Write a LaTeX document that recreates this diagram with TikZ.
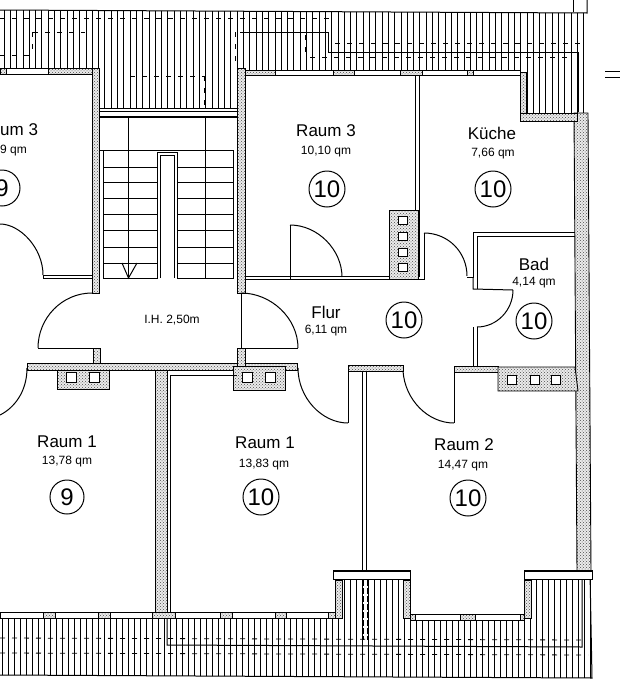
\documentclass[tikz,border=0pt]{standalone}
\usepackage{fontspec}
\setmainfont{Liberation Sans}
\usetikzlibrary{patterns}

\tikzset{
  plan/.style={black, line width=1pt},
  hatchline/.style={black, line width=0.8pt},
  dashline/.style={black, line width=0.8pt, dash pattern=on 5pt off 7pt},
  wallband/.style={draw=black, line width=0.9pt, preaction={fill=black!8}, pattern=crosshatch dots, pattern color=black!70},
  windowband/.style={draw=black, line width=0.8pt, fill=white},
  flue/.style={draw=black, line width=1pt, fill=white},
  roomname/.style={font=\fontsize{17}{20}\selectfont, inner sep=0pt},
  roomarea/.style={font=\fontsize{12}{14}\selectfont, inner sep=0pt},
  flatnr/.style={draw=black, line width=1pt, circle, minimum size=36pt, inner sep=0pt, font=\fontsize{24}{28}\selectfont},
}

\begin{document}
\begin{tikzpicture}[x=1pt, y=-1pt]
  \useasboundingbox (0,0) rectangle (620,683);

  % roof hatching
  \begin{scope}
    \clip (0,10) -- (587,13) -- (588,113) -- (520,113) -- (520,70) -- (237,70) -- (237,108) -- (99,108) -- (99,68) -- (0,68) -- cycle;
    \foreach \i in {0,...,93} {
      \draw[hatchline] ({4 + 6.3 * \i}, 5) -- +(0, 110);
    }
  \end{scope}
  \begin{scope}
    \clip (0,618) -- (335,618) -- (335,580) -- (410,580) -- (410,618) -- (525,618) -- (525,580) -- (592,580) -- (592,678) -- (0,675) -- cycle;
    \foreach \i in {0,...,98} {
      \draw[hatchline] ({2 + 6 * \i}, 575) -- +(0, 105);
    }
  \end{scope}

  % roof outline
  \draw[plan] (573,0) -- (573,12);
  \draw[plan] (587,0) -- (587,13) -- (0,10);
  \draw[plan] (0,675) -- (592,678) -- (590,572);
  \draw[plan] (605,71) -- (620,71);
  \draw[plan] (605,77) -- (620,77);

  % dashed lines in the roof
  \draw[dashline] (0,18) -- (335,18);
  \draw[dashline] (310,57) -- (573,57);
  \draw[dashline] (335,43) -- (585,43);
  \draw[dashline] (33,32) -- (85,32);
  \draw[dashline] (130,76) -- (204,76);
  \draw[dashline] (0,55) -- (32,55);
  \draw[dashline] (32,32) -- (32,55);
  \draw[dashline] (92,38) -- (92,66);
  \draw[dashline] (204,76) -- (204,106);
  \draw[dashline] (235,32) -- (235,66);
  \draw[dashline] (305,35) -- (305,56);
  \draw[dashline] (0,638) -- (586,640);
  \draw[dashline] (0,653) -- (588,655);
  \draw[plan] (240,32) -- (328,32) -- (328,52) -- (578,52) -- (578,112);
  \draw[plan] (167,618) -- (167,645) -- (582,647) -- (582,580);
  \draw[plan, dash pattern=on 6pt off 2pt] (363,580) -- (363,640);
  \draw[plan, dash pattern=on 6pt off 2pt] (367,580) -- (367,640);

  % stairs
  \draw[plan] (99,108) -- (237,108);
  \draw[plan] (99,111) -- (237,111);
  \draw[plan, line width=1.3pt] (99,117) -- (237,117);
  \draw[plan] (100,150) -- (233,150);
  \foreach \y in {167, 182, 198, 214, 230, 247, 263} {
    \draw[plan] (103,\y) -- (157,\y);
    \draw[plan] (178,\y) -- (233,\y);
  }
  \draw[plan] (103,150) -- (103,278) -- (157,278) -- (157,152) -- (177,152) -- (177,278) -- (233,278) -- (233,150);
  \draw[plan] (160,278) -- (160,155) -- (174,155) -- (174,278);
  \draw[plan] (128.5,117) -- (128.5,278);
  \draw[plan] (205,117) -- (205,278);
  \draw[plan] (122,263) -- (128.5,278) -- (137,263);

  % walls
  \fill[white] (0,68) rectangle (99,74);
  \draw[wallband] (92,68) rectangle (99,293);
  \draw[wallband] (237,68) rectangle (245,293);
  \draw[wallband] (574,113) -- (588,113) -- (591,572) -- (577,572) -- cycle;
  \draw[wallband] (520,72) rectangle (526,113);
  \draw[wallband] (520,113) rectangle (577,121);
  \draw[wallband] (389,210) rectangle (418,279);
  \draw[wallband] (27,363) rectangle (297,370);
  \draw[wallband] (348,365) rectangle (403,371);
  \draw[wallband] (454,366) rectangle (498,372);
  \draw[wallband] (498,367) -- (575,367) -- (578,391) -- (498,391) -- cycle;
  \draw[wallband] (57,370) rectangle (109,389);
  \draw[wallband] (233,366) rectangle (285,390);
  \draw[wallband] (93,348) rectangle (100,363);
  \draw[wallband] (237,348) rectangle (245,366);
  \draw[wallband] (155,370) rectangle (167,612);
  \draw[wallband] (335,580) rectangle (342,618);
  \draw[wallband] (403,580) rectangle (410,618);
  \draw[wallband] (524,580) rectangle (531,618);

  % window bands
  \draw[windowband] (0,68) rectangle (92,74);
  \draw[wallband] (0,68) rectangle (6,74);
  \draw[wallband] (48,68) rectangle (92,74);
  \draw[windowband] (245,70) rectangle (520,75);
  \foreach \xa/\xb in {245/275, 333/354, 400/422, 467/473} {
    \draw[wallband] (\xa,70) rectangle (\xb,75);
  }
  \draw[windowband] (0,612) rectangle (335,618);
  \foreach \xa/\xb in {43/55, 98/110, 152/175, 220/232, 275/286, 328/335} {
    \draw[wallband] (\xa,612) rectangle (\xb,618);
  }
  \draw[windowband] (410,614) rectangle (524,620);
  \foreach \xa/\xb in {410/415, 460/475, 520/524} {
    \draw[wallband] (\xa,614) rectangle (\xb,620);
  }
  \draw[plan, fill=white] (333,570) rectangle (410,579);
  \draw[plan, fill=white] (524,570) rectangle (592,579);
  \draw[black, line width=1.6pt] (333,571) -- (410,571);
  \draw[black, line width=1.6pt] (524,571) -- (592,571);

  % thin partitions
  \draw[plan] (415,75) -- (415,210);
  \draw[plan] (419,75) -- (419,277);
  \draw[plan] (424,233) -- (424,279) -- (418,279);
  \draw[plan] (43,278) -- (43,275) -- (92,275);
  \draw[plan] (43,278) -- (92,278);
  \draw[plan] (290,225) -- (290,279) -- (389,279);
  \draw[plan] (245,276) -- (389,276);
  \draw[plan] (245,279) -- (290,279);
  \draw[plan] (241.5,293) -- (241.5,348);
  \draw[plan] (38,348) -- (93,348);
  \draw[plan] (241.5,348) -- (298,348);
  \draw[plan] (170,612) -- (170,375) -- (237,375);
  \draw[plan] (362,371) -- (362,570);
  \draw[plan] (366,371) -- (366,570);
  \draw[plan] (348,365) -- (348,423);
  \draw[plan] (454,366) -- (454,423);
  \draw[plan] (467,277) -- (473,277) -- (473,232) -- (575,232);
  \draw[plan] (477,289) -- (477,236) -- (575,236);
  \draw[plan] (473,277) -- (473,289) -- (513,290);
  \draw[plan] (473,327) -- (473,366);
  \draw[plan] (477,327) -- (477,366);

  % door swings
  \draw[plan] (0,224) .. controls (20,224) and (43,248) .. (43,275);
  \draw[plan] (92,293) .. controls (62,293) and (38,318) .. (38,348);
  \draw[plan] (241,293) .. controls (271,293) and (298,318) .. (298,348);
  \draw[plan] (290,225) .. controls (318,225) and (342,250) .. (342,277);
  \draw[plan] (424,233) .. controls (448,233) and (467,252) .. (467,276);
  \draw[plan] (513,290) .. controls (513,310) and (497,327) .. (477,327);
  \draw[plan] (27,368) .. controls (27,392) and (14,408) .. (0,415);
  \draw[plan] (298,368) .. controls (298,398) and (322,423) .. (348,423);
  \draw[plan] (403,371) .. controls (405,400) and (428,423) .. (454,423);

  % flues
  \foreach \y in {216, 232, 248, 263} {
    \draw[flue] (398.5,\y) rectangle +(9,8);
  }
  \foreach \x in {66, 89, 242, 265} {
    \draw[flue] (\x,372) rectangle +(10,10);
  }
  \foreach \x in {507, 530, 551} {
    \draw[flue] (\x,375) rectangle +(9.5,9);
  }

  % labels
  \node[roomname, anchor=west] (raumdreil) at (0,130) {um 3};
  \node[roomarea, anchor=west] (flaechedreil) at (0,151) {9 qm};
  \node[flatnr] (nrdreil) at (2,188) {9};
  \node[roomname] (raumdreir) at (326,131) {Raum 3};
  \node[roomarea] (flaechedreir) at (326,152) {10,10 qm};
  \node[flatnr] (nrdreir) at (327,189) {10};
  \node[roomname] (kueche) at (492,133) {Küche};
  \node[roomarea] (flaechekueche) at (493,154) {7,66 qm};
  \node[flatnr] (nrkueche) at (493,189) {10};
  \node[roomname] (bad) at (534,264) {Bad};
  \node[roomarea] (flaechebad) at (534,283) {4,14 qm};
  \node[flatnr] (nrbad) at (534,321) {10};
  \node[roomname] (flur) at (326,312) {Flur};
  \node[roomarea] (flaecheflur) at (326,331) {6,11 qm};
  \node[flatnr] (nrflur) at (404,320) {10};
  \node[roomarea] (hoehe) at (172,320) {I.H. 2,50m};
  \node[roomname] (raumeinsl) at (67,442) {Raum 1};
  \node[roomarea] (flaecheeinsl) at (67,462) {13,78 qm};
  \node[flatnr, minimum size=34pt] (nreinsl) at (67,497) {9};
  \node[roomname] (raumeinsr) at (265,443) {Raum 1};
  \node[roomarea] (flaecheeinsr) at (264,465) {13,83 qm};
  \node[flatnr] (nreinsr) at (261,497) {10};
  \node[roomname] (raumzwei) at (464,445) {Raum 2};
  \node[roomarea] (flaechezwei) at (463,466) {14,47 qm};
  \node[flatnr] (nrzwei) at (468,498) {10};
\end{tikzpicture}
\end{document}
